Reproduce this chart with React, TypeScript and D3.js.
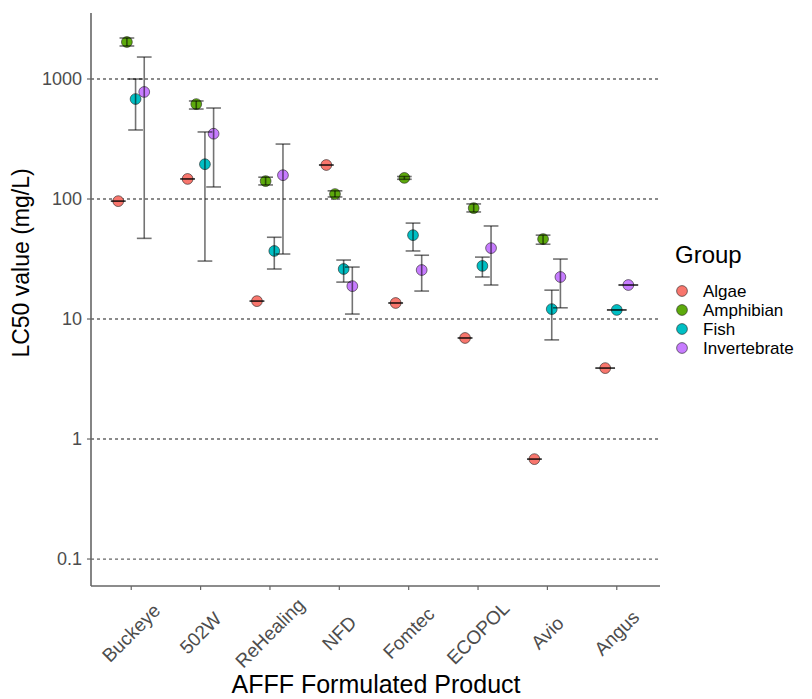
import React from "react";
import * as d3 from "d3";

// AFFF products on the x axis
const products = ["Buckeye", "502W", "ReHealing", "NFD", "Fomtec", "ECOPOL", "Avio", "Angus"];
const groups = ["Algae", "Amphibian", "Fish", "Invertebrate"];
const groupColors = ["#F8766D", "#5DAA0C", "#00BFC4", "#C77CFF"];

// LC50 estimates (mg/L) with lower / upper limits, null = not tested
const algaeLC50 = [96, 147, 14.1, 192, 13.6, 6.95, 0.68, 3.9];
const algaeLower = [96, 147, 14.1, 192, 13.6, 6.95, 0.68, 3.9];
const algaeUpper = [96, 147, 14.1, 192, 13.6, 6.95, 0.68, 3.9];

const amphibianLC50 = [2034, 618, 141, 110, 150, 84, 46.4, null];
const amphibianLower = [1884, 562, 131, 104, 146, 78, 42, null];
const amphibianUpper = [2196, 656, 152, 117, 154, 91, 50, null];

const fishLC50 = [681, 195, 36.9, 26.1, 50, 27.7, 12.1, 11.9];
const fishLower = [376, 30.4, 26.1, 20.3, 36.9, 22.4, 6.7, 11.9];
const fishUpper = [1000, 362, 48, 31, 63, 32.8, 17.4, 11.9];

const invertLC50 = [780, 350, 158, 18.8, 25.6, 39, 22.4, 19.2];
const invertLower = [47, 126, 34.8, 11.0, 17.1, 19.2, 12.4, 19.2];
const invertUpper = [1524, 573, 287, 27.1, 34, 59.6, 31.6, 19.2];

const yTicks = [0.1, 1, 10, 100, 1000];
const yTickLabels = ["0.1", "1", "10", "100", "1000"];

const seriesValues = [algaeLC50, amphibianLC50, fishLC50, invertLC50];
const seriesLower = [algaeLower, amphibianLower, fishLower, invertLower];
const seriesUpper = [algaeUpper, amphibianUpper, fishUpper, invertUpper];

const font = "'Liberation Sans', Arial, Helvetica, sans-serif";

export default function App() {
  const width = 812;
  const height = 699;
  const left = 91, right = 657, top = 13, bottom = 586;

  const x = d3.scalePoint<string>().domain(products).range([left, right]).padding(0.58);
  const y = d3.scaleLog().domain([0.0596, 3548]).range([bottom, top]);
  const step = x.step();
  const dodge = 0.5 * step;

  // build dodged rows, ggplot style (dodge among groups present in each product)
  const rows: any[] = [];
  products.forEach((p, i) => {
    const present = groups.map((g, j) => j).filter(j => seriesValues[j][i] != null);
    const n = present.length;
    present.forEach((j, k) => {
      rows.push({
        product: p,
        group: groups[j],
        color: groupColors[j],
        cx: x(p)! + (k - (n - 1) / 2) * dodge / n,
        cap: 0.85 * step / n,
        value: seriesValues[j][i],
        lo: seriesLower[j][i],
        hi: seriesUpper[j][i],
      });
    });
  });

  const barStyle = { stroke: "#000", strokeOpacity: 0.55, strokeWidth: 1.6 };

  return (
    <svg width={width} height={height} style={{ position: "absolute", left: 0, top: 0, background: "#fff" }}
      fontFamily={font}>
      {/* gridlines */}
      {yTicks.map(t => (
        <line key={"g" + t} x1={left} x2={right + 3} y1={y(t)} y2={y(t)}
          stroke="#666" strokeWidth={1.3} strokeDasharray="3,3" />
      ))}

      {/* points */}
      {rows.map((r, i) => (
        <circle key={"p" + i} cx={r.cx} cy={y(r.value)} r={5.4} fill={r.color}
          stroke="#222" strokeWidth={0.6} />
      ))}

      {/* error bars drawn over the points */}
      {rows.map((r, i) => (
        <g key={"e" + i} {...barStyle}>
          <line x1={r.cx - r.cap / 2} x2={r.cx + r.cap / 2} y1={y(r.hi)} y2={y(r.hi)} />
          {r.hi !== r.lo && <line x1={r.cx} x2={r.cx} y1={y(r.hi)} y2={y(r.lo)} />}
          <line x1={r.cx - r.cap / 2} x2={r.cx + r.cap / 2} y1={y(r.lo)} y2={y(r.lo)} />
        </g>
      ))}

      {/* axes */}
      <line x1={left} x2={left} y1={top} y2={bottom} stroke="#666" strokeWidth={1.6} />
      <line x1={left} x2={right + 3} y1={bottom} y2={bottom} stroke="#666" strokeWidth={1.6} />
      {yTicks.map((t, i) => (
        <g key={"yt" + t}>
          <line x1={left - 4} x2={left} y1={y(t)} y2={y(t)} stroke="#666" strokeWidth={1.2} />
          <text x={left - 9} y={y(t)} textAnchor="end" dominantBaseline="central"
            fontSize={18} fill="#4d4d4d">{yTickLabels[i]}</text>
        </g>
      ))}
      {products.map(p => (
        <g key={"xt" + p}>
          <line x1={x(p)} x2={x(p)} y1={bottom} y2={bottom + 4} stroke="#666" strokeWidth={1.2} />
          <text transform={`translate(${x(p)},633) rotate(-45)`} textAnchor="middle"
            dominantBaseline="central" fontSize={19} fill="#4d4d4d">{p}</text>
        </g>
      ))}

      {/* axis titles */}
      <text transform="translate(21,263) rotate(-90)" textAnchor="middle" dominantBaseline="central"
        fontSize={23} fill="#000">LC50 value (mg/L)</text>
      <text x={(left + right) / 2 + 2} y={693} textAnchor="middle" fontSize={25} fill="#000">
        AFFF Formulated Product
      </text>

      {/* legend */}
      <text x={675} y={263} fontSize={24} fill="#000">Group</text>
      {groups.map((g, i) => (
        <g key={"l" + g} transform={`translate(682,${291 + i * 19})`}>
          <circle r={5.4} fill={groupColors[i]} stroke="#222" strokeWidth={0.6} />
          <text x={21} y={0} dominantBaseline="central" fontSize={17} fill="#000">{g}</text>
        </g>
      ))}
    </svg>
  );
}
